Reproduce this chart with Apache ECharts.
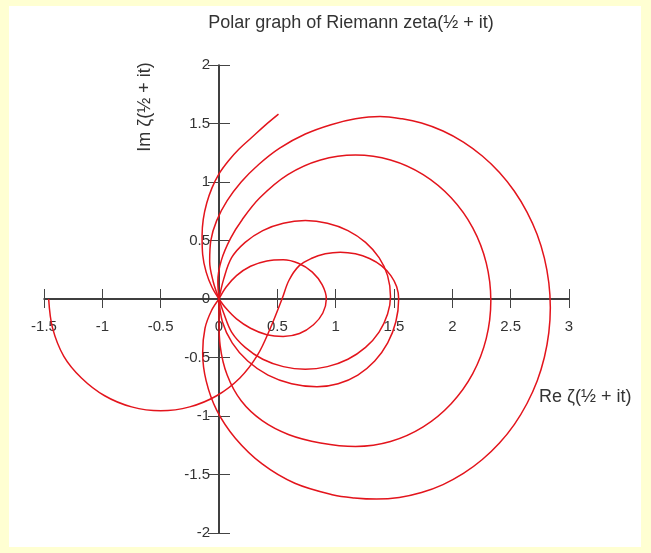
<!DOCTYPE html>
<html>
<head>
<meta charset="utf-8">
<title>Polar graph of Riemann zeta</title>
<script src="https://cdn.jsdelivr.net/npm/echarts@6.0.0/dist/echarts.min.js"></script>
<style>
  html, body { margin: 0; padding: 0; background: #ffffd2; }
  #frame { position: absolute; left: 9px; top: 6px; width: 632px; height: 541px; background: #fff; }
  #chart { position: absolute; left: 0; top: 0; width: 651px; height: 553px; }
</style>
</head>
<body>
<div id="frame"></div>
<div id="chart"></div>
<script>
// tick ranges of the two axes
var reTicks = [-1.5, -1, -0.5, 0, 0.5, 1, 1.5, 2, 2.5, 3];
var imTicks = [-2, -1.5, -1, -0.5, 0, 0.5, 1, 1.5, 2];

// zeta(1/2 + it), [Re, Im], one array per pass between zeros
var startArc = [[-1.46, 0], [-1.427, -0.247], [-1.33, -0.49], [-1.179, -0.675], [-0.98, -0.827],
    [-0.749, -0.922], [-0.5, -0.955], [-0.251, -0.922], [-0.02, -0.827], [0.179, -0.675],
    [0.331, -0.478], [0.44, -0.25], [0.54, 0], [0.6, 0.16], [0.686, 0.283], [0.79, 0.346],
    [0.911, 0.386], [1.04, 0.4], [1.169, 0.386], [1.29, 0.346], [1.394, 0.283], [1.473, 0.2],
    [1.523, 0.104], [1.54, 0], [1.516, -0.194], [1.446, -0.375], [1.335, -0.53], [1.19, -0.65],
    [1.021, -0.724], [0.84, -0.75], [0.622, -0.724], [0.42, -0.65], [0.246, -0.53],
    [0.113, -0.375], [0.029, -0.194], [0, 0]];
var loop1 = [[0, 0], [-0.01, 0.15], [0.02, 0.33], [0.1, 0.52], [0.2, 0.68], [0.35, 0.865],
    [0.59, 1.063], [0.87, 1.188], [1.17, 1.23], [1.47, 1.188], [1.75, 1.063], [1.99, 0.865],
    [2.175, 0.608], [2.291, 0.307], [2.33, -0.015], [2.291, -0.337], [2.175, -0.638],
    [1.99, -0.895], [1.75, -1.093], [1.47, -1.218], [1.17, -1.26], [0.87, -1.23], [0.6, -1.16],
    [0.37, -1.04], [0.19, -0.87], [0.07, -0.65], [0.01, -0.4], [0, -0.18], [0, 0]];
var loop2 = [[0, 0], [0.04, 0.17], [0.108, 0.353], [0.224, 0.484], [0.375, 0.585], [0.551, 0.648],
    [0.74, 0.67], [0.929, 0.648], [1.105, 0.585], [1.256, 0.484], [1.372, 0.353], [1.445, 0.2],
    [1.47, 0.02], [1.445, -0.129], [1.372, -0.283], [1.256, -0.414], [1.105, -0.515],
    [0.929, -0.578], [0.74, -0.6], [0.551, -0.578], [0.375, -0.515], [0.224, -0.414],
    [0.108, -0.283], [0.04, -0.12], [0, 0]];
var loop3 = [[0, 0], [-0.05, 0.15], [-0.08, 0.32], [-0.07, 0.5], [-0.02, 0.67], [0.07, 0.84],
    [0.19, 1.0], [0.34, 1.15], [0.52, 1.29], [0.74, 1.41], [0.96, 1.49], [1.17, 1.54],
    [1.38, 1.56], [1.57, 1.54], [1.736, 1.504], [1.92, 1.436], [2.095, 1.341], [2.257, 1.222],
    [2.404, 1.081], [2.532, 0.921], [2.64, 0.743], [2.727, 0.551], [2.789, 0.349], [2.827, 0.139],
    [2.84, -0.075], [2.827, -0.288], [2.789, -0.498], [2.727, -0.701], [2.64, -0.893],
    [2.532, -1.071], [2.404, -1.231], [2.257, -1.372], [2.095, -1.491], [1.92, -1.586],
    [1.736, -1.654], [1.545, -1.696], [1.35, -1.71], [1.16, -1.7], [0.98, -1.675], [0.65, -1.575],
    [0.37, -1.41], [0.14, -1.19], [-0.02, -0.95], [-0.11, -0.7], [-0.14, -0.46], [-0.12, -0.25],
    [-0.065, -0.1], [0, 0]];
var loop4 = [[0, 0], [0.06, 0.1], [0.15, 0.2], [0.27, 0.28], [0.41, 0.325], [0.55, 0.335],
    [0.68, 0.305], [0.8, 0.23], [0.885, 0.12], [0.92, 0], [0.89, -0.12], [0.81, -0.22],
    [0.69, -0.295], [0.55, -0.32], [0.41, -0.305], [0.27, -0.25], [0.15, -0.17], [0.06, -0.08],
    [0, 0]];
var tailArc = [[0, 0], [-0.06, 0.1], [-0.11, 0.23], [-0.14, 0.38], [-0.145, 0.54], [-0.135, 0.68],
    [-0.105, 0.82], [-0.06, 0.95], [0, 1.07], [0.08, 1.18], [0.17, 1.28], [0.28, 1.38],
    [0.39, 1.48], [0.51, 1.58]];

var passes = [startArc, loop1, loop2, loop3, loop4, tailArc];

var font = '"Liberation Sans", Arial, sans-serif';
var red = '#e3141c';

var chart = echarts.init(document.getElementById('chart'));

// axes cross at the origin: move them in from the grid edge with a negative offset
function axisPair(ticks, pos, shift, labelMargin, outLen, inLen) {
    var base = {
        type: 'value',
        position: pos,
        offset: shift,
        min: ticks[0],
        max: ticks[ticks.length - 1],
        interval: ticks[1] - ticks[0],
        splitLine: {show: false}
    };
    return [
        Object.assign({}, base, {
            axisLine: {onZero: false, lineStyle: {color: '#000', width: 1.5}},
            axisTick: {length: outLen, lineStyle: {color: '#444'}},
            axisLabel: {margin: labelMargin, fontSize: 15, fontFamily: font, color: '#333'}
        }),
        // second copy only for the half of each tick on the other side of the line
        Object.assign({}, base, {
            axisLine: {show: false, onZero: false},
            axisTick: {inside: true, length: inLen, lineStyle: {color: '#444'}},
            axisLabel: {show: false}
        })
    ];
}

option = {
    animation: false,
    title: {
        text: 'Polar graph of Riemann zeta(½ + it)',
        left: 346,
        top: 9,
        textAlign: 'center',
        textStyle: {fontFamily: font, fontSize: 18, fontWeight: 'normal', color: '#333'}
    },
    grid: {left: 44, right: 82, top: 65, bottom: 20, outerBoundsMode: 'none'},
    xAxis: axisPair(reTicks, 'bottom', -234, 20, 9, 10),
    yAxis: axisPair(imTicks, 'left', -175, 9, 11, 11),
    graphic: [{
        type: 'text',
        x: 145,
        y: 107,
        rotation: Math.PI / 2,
        style: {
            text: 'Im ζ(½ + it)', font: '18px ' + font, fill: '#333',
            align: 'center', verticalAlign: 'middle'
        }
    }, {
        type: 'text',
        x: 539,
        y: 397,
        style: {
            text: 'Re ζ(½ + it)', font: '18px ' + font, fill: '#333',
            align: 'left', verticalAlign: 'middle'
        }
    }],
    series: passes.map(function (pts) {
        return {
            type: 'line',
            data: pts,
            smooth: 0.35,
            showSymbol: false,
            clip: false,
            silent: true,
            lineStyle: {color: red, width: 1.5}
        };
    })
};

chart.setOption(option);
</script>
</body>
</html>
